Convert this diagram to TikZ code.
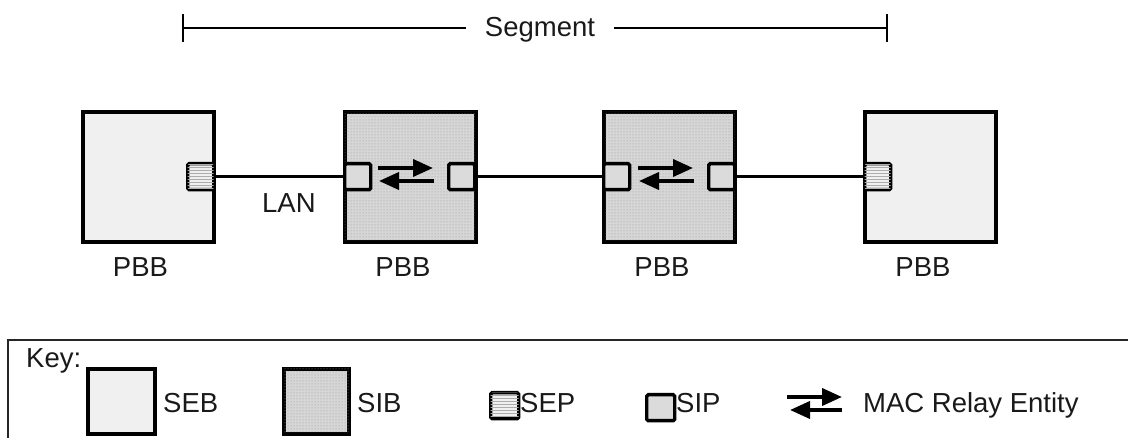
\documentclass[tikz,border=0pt]{standalone}
\usepackage{fontspec}
\setmainfont{Liberation Sans}
\usetikzlibrary{patterns,arrows.meta}
\begin{document}
\begin{tikzpicture}[x=1pt,y=-1pt,
  every node/.style={font=\fontsize{27.5}{33}\selectfont, inner sep=0pt, text=black!90},
  bridge/.style={draw, line width=3.6pt, minimum width=131pt, minimum height=130pt, anchor=north west},
  sebbox/.style={bridge, fill=gray!12},
  sibbox/.style={bridge, fill=gray!32, postaction={pattern=dots, pattern color=gray!80}},
  portbox/.style={draw, line width=3.4pt, rounded corners=1.5pt, minimum width=26pt, minimum height=26pt, anchor=north west},
  sipbox/.style={portbox, fill=gray!28},
  sepbox/.style={portbox, fill=gray!12, postaction={pattern=horizontal lines, pattern color=gray!65}},
  lanline/.style={line width=3.6pt},
  relay/.style={line width=3.8pt, -{Triangle[length=20pt,width=17pt]}},
  lbl/.style={anchor=base west},
  ]
\useasboundingbox (0,0) rectangle (1128,438);
\clip (0,0) rectangle (1128,438);

% Segment
\node[anchor=base, inner xsep=19pt] (seg) at (540,37) {Segment};
\coordinate (segL) at (183,28);
\coordinate (segR) at (887,28);
\draw[line width=2.8pt] (segL) -- (seg.west |- segL);
\draw[line width=2.8pt] (seg.east |- segR) -- (segR);
\draw[line width=2.8pt] ([yshift=14pt]segL) -- ([yshift=-14pt]segL);
\draw[line width=2.8pt] ([yshift=14pt]segR) -- ([yshift=-14pt]segR);

% Bridges
\node[sebbox] (b1) at (81,110) {};
\node[sibbox] (b2) at (343,110) {};
\node[sibbox] (b3) at (602,110) {};
\node[sebbox] (b4) at (863,110) {};

% Ports
\node[sepbox] (p1) at (186,162) {};
\node[sipbox] (p2l) at (343,162) {};
\node[sipbox] (p2r) at (447,162) {};
\node[sipbox] (p3l) at (602,162) {};
\node[sipbox] (p3r) at (707,162) {};
\node[sepbox] (p4) at (863,162) {};

% LANs
\draw[lanline] (p1.east) -- (p2l.west);
\draw[lanline] (p2r.east) -- (p3l.west);
\draw[lanline] (p3r.east) -- (p4.west);

% MAC relay entities
\coordinate (r2a) at (378,168); \coordinate (r2b) at (433,168);
\coordinate (r2c) at (434,181); \coordinate (r2d) at (379,181);
\draw[relay] (r2a) -- (r2b);
\draw[relay] (r2c) -- (r2d);
\coordinate (r3a) at (638,168); \coordinate (r3b) at (693,168);
\coordinate (r3c) at (694,181); \coordinate (r3d) at (639,181);
\draw[relay] (r3a) -- (r3b);
\draw[relay] (r3c) -- (r3d);

% Labels
\node[lbl] (lan) at (262,213) {LAN};
\node[anchor=base] (l1) at (140.5,277) {PBB};
\node[anchor=base] (l2) at (403,277) {PBB};
\node[anchor=base] (l3) at (662,277) {PBB};
\node[anchor=base] (l4) at (923,277) {PBB};

% Key
\draw[line width=2.8pt, draw=black!85] (8,340) rectangle (1140,450);
\node[lbl] (key) at (26,368) {Key:};
\node[sebbox, minimum width=67pt, minimum height=65pt] (k1) at (86,367) {};
\node[lbl] (k1t) at (163,413) {SEB};
\node[sibbox, minimum width=65pt, minimum height=65pt] (k2) at (282,367) {};
\node[lbl] (k2t) at (357,413) {SIB};
\node[sepbox, minimum width=28pt, minimum height=26pt] (k3) at (489,391) {};
\node[lbl] (k3t) at (520,413) {SEP};
\node[sipbox, minimum width=28pt, minimum height=26pt] (k4) at (645,393) {};
\node[lbl] (k4t) at (676,413) {SIP};
\coordinate (ka) at (787,397); \coordinate (kb) at (842,397);
\coordinate (kc) at (842,410); \coordinate (kd) at (790,410);
\draw[relay] (ka) -- (kb);
\draw[relay] (kc) -- (kd);
\node[lbl] (k5t) at (863,413) {MAC Relay Entity};
\end{tikzpicture}
\end{document}
